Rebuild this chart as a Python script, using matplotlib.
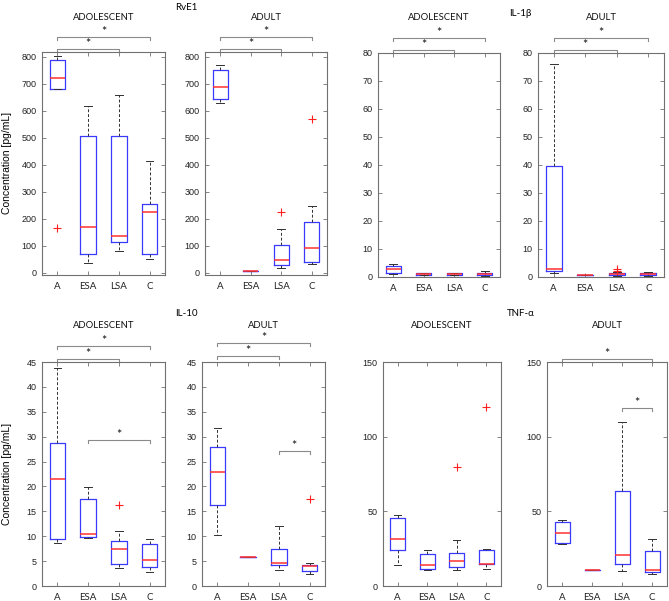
import matplotlib
matplotlib.use("Agg")
import matplotlib.pyplot as plt

# ---- data ----
groups = ["A", "ESA", "LSA", "C"]

rve1_adol = dict(med=[722, 170, 137, 225], q1=[680, 70, 113, 70], q3=[787, 505, 505, 253],
                 lo=[680, 37, 80, 50], hi=[805, 617, 660, 415], out=[[167], [], [], []])
rve1_adult = dict(med=[688, 5, 45, 90], q1=[642, 5, 27, 40], q3=[750, 5, 103, 187],
                  lo=[630, 5, 17, 30], hi=[770, 5, 163, 248], out=[[], [], [225], [570]])
il1b_adol = dict(med=[3.0, 1.0, 1.0, 1.0], q1=[1.5, 0.8, 0.8, 0.6], q3=[3.8, 1.3, 1.3, 1.4],
                 lo=[1.0, 0.6, 0.6, 0.3], hi=[4.5, 1.4, 1.6, 2.0], out=[[], [], [], []])
il1b_adult = dict(med=[2.8, 0.7, 1.1, 1.1], q1=[2.0, 0.7, 0.8, 0.7], q3=[39.5, 0.7, 1.5, 1.5],
                  lo=[1.5, 0.7, 0.5, 0.5], hi=[76, 0.7, 1.7, 1.8], out=[[], [], [2.2, 3.0], []])
il10_adol = dict(med=[21.4, 10.5, 7.5, 5.2], q1=[9.4, 9.8, 4.35, 3.9], q3=[28.7, 17.4, 9.0, 8.5],
                 lo=[8.7, 9.6, 3.6, 2.8], hi=[43.8, 19.9, 11.0, 9.4], out=[[], [], [16.2], []])
il10_adult = dict(med=[23.0, 5.8, 4.6, 3.95], q1=[16.2, 5.8, 4.3, 3.1], q3=[27.9, 5.8, 7.5, 4.3],
                  lo=[10.3, 5.8, 3.3, 2.35], hi=[31.7, 5.8, 12.1, 4.6], out=[[], [], [], [17.4]])
tnf_adol = dict(med=[31.3, 13.9, 16.6, 15.0], q1=[24.0, 11.2, 13.0, 15.0], q3=[45.4, 21.3, 22.4, 24.0],
                lo=[13.9, 10.5, 10.5, 11.2], hi=[47.5, 24.2, 30.7, 25.1], out=[[], [], [79.5], [119.8]])
tnf_adult = dict(med=[35.3, 11.0, 20.7, 10.8], q1=[28.5, 11.0, 14.4, 9.5], q3=[42.6, 11.0, 63.8, 23.5],
                 lo=[28.2, 11.0, 10.2, 8.3], hi=[44.0, 11.0, 109.7, 31.5], out=[[], [], [], []])

# significance brackets: (group i, group j, height in axes fraction)
sig_rve1_adol = [(1, 4, 1.067), (1, 3, 1.013)]
sig_rve1_adult = [(1, 4, 1.067), (1, 3, 1.013)]
sig_il1b_adol = [(1, 4, 1.067), (1, 3, 1.013)]
sig_il1b_adult = [(1, 4, 1.067), (1, 3, 1.013)]
sig_il10_adol = [(1, 4, 1.071), (1, 3, 1.013), (2, 4, 0.653)]
sig_il10_adult = [(1, 4, 1.085), (1, 3, 1.027), (3, 4, 0.602)]
sig_tnf_adol = []
sig_tnf_adult = [(1, 4, 1.013), (3, 4, 0.795)]

# ---- layout (pixels in the 669x601 figure) ----
W, H = 669, 601
panels = [
    # data, sig, subtitle, subtitle y, ylim, yticks, (left, right, top, bottom)
    (rve1_adol, sig_rve1_adol, "ADOLESCENT", 18, (-9, 818), range(0, 801, 100), (42, 165, 52, 275)),
    (rve1_adult, sig_rve1_adult, "ADULT", 18, (-9, 818), range(0, 801, 100), (205, 327, 52, 275)),
    (il1b_adol, sig_il1b_adol, "ADOLESCENT", 18, (0, 80), range(0, 81, 10), (378, 500, 53, 277)),
    (il1b_adult, sig_il1b_adult, "ADULT", 18, (0, 80), range(0, 81, 10), (538, 664, 53, 277)),
    (il10_adol, sig_il10_adol, "ADOLESCENT", 325, (0, 45), range(0, 46, 5), (42, 165, 362, 586)),
    (il10_adult, sig_il10_adult, "ADULT", 326, (0, 45), range(0, 46, 5), (202, 325, 362, 586)),
    (tnf_adol, sig_tnf_adol, "ADOLESCENT", 325, (0, 150), range(0, 151, 50), (383, 501, 362, 586)),
    (tnf_adult, sig_tnf_adult, "ADULT", 326, (0, 150), range(0, 151, 50), (547, 667, 362, 586)),
]

NUM_FONT = ["Liberation Sans", "DejaVu Sans"]
TXT_FONT = ["Lato", "DejaVu Sans"]
AX_COLOR = "#707070"

fig = plt.figure(figsize=(W / 100, H / 100), dpi=100, facecolor="white")

for data, sigs, subtitle, sub_px, ylim, yticks, (l, r, t, b) in panels:
    ax = fig.add_axes([l / W, 1 - b / H, (r - l) / W, (b - t) / H])
    stats = []
    for i in range(len(groups)):
        stats.append(dict(med=data["med"][i], q1=data["q1"][i], q3=data["q3"][i],
                          whislo=data["lo"][i], whishi=data["hi"][i],
                          fliers=data["out"][i], label=groups[i]))
    ax.bxp(stats, positions=[1, 2, 3, 4], widths=0.5, capwidths=0.25,
           boxprops=dict(color="#3a3aff", linewidth=0.9),
           medianprops=dict(color="#ff3030", linewidth=1.1),
           whiskerprops=dict(color="#303030", linewidth=0.7, linestyle=(0, (3, 2))),
           capprops=dict(color="#303030", linewidth=0.7),
           flierprops=dict(marker="+", markeredgecolor="#ff2020", markersize=6,
                           markeredgewidth=0.8, linestyle="none"))
    ax.set_xlim(0.5, 4.5)
    ax.set_ylim(*ylim)
    ax.set_yticks(list(yticks))
    ax.set_xticks([1, 2, 3, 4])
    ax.set_xticklabels(groups, fontfamily=TXT_FONT, fontsize=7)
    for lab in ax.get_yticklabels():
        lab.set_fontfamily(NUM_FONT)
        lab.set_fontsize(6.5)
    ax.tick_params(direction="in", top=True, right=True, length=3, width=0.6,
                   color=AX_COLOR, labelcolor="#222222", pad=4)
    ax.tick_params(axis="x", pad=5)
    for sp in ax.spines.values():
        sp.set_color(AX_COLOR)
        sp.set_linewidth(0.8)

    # subtitle
    ax.text(0.5, 1 + (t - sub_px) / (b - t), subtitle, transform=ax.transAxes,
            ha="center", va="center", fontfamily=TXT_FONT, fontsize=6.8, color="#111111")

    # significance brackets
    tr = ax.get_xaxis_transform()
    drop = 3 / (b - t)
    for g1, g2, y in sigs:
        ax.plot([g1, g1, g2, g2], [y - drop, y, y, y - drop], transform=tr,
                color="#8a8a8a", linewidth=0.8, clip_on=False)
        ax.text((g1 + g2) / 2, y + 1 / (b - t), "*", transform=tr, ha="center",
                va="baseline", fontfamily=TXT_FONT, fontsize=9, color="#111111")

# group titles and y labels
fig.text(175 / W, 1 - 7 / H, "RvE1", ha="left", va="center", fontfamily=TXT_FONT, fontsize=7)
fig.text(509 / W, 1 - 13 / H, "IL-1β", ha="left", va="center", fontfamily=TXT_FONT, fontsize=7)
fig.text(175 / W, 1 - 314 / H, "IL-10", ha="left", va="center", fontfamily=TXT_FONT, fontsize=7)
fig.text(507 / W, 1 - 313 / H, "TNF-α", ha="left", va="center", fontfamily=TXT_FONT, fontsize=7)
fig.text(7 / W, 1 - 163 / H, "Concentration [pg/mL]", rotation=90, ha="center", va="center",
         fontfamily=NUM_FONT, fontsize=7.5)
fig.text(7 / W, 1 - 474 / H, "Concentration [pg/mL]", rotation=90, ha="center", va="center",
         fontfamily=NUM_FONT, fontsize=7.5)

fig.savefig("out.png", dpi=100, facecolor="white")
